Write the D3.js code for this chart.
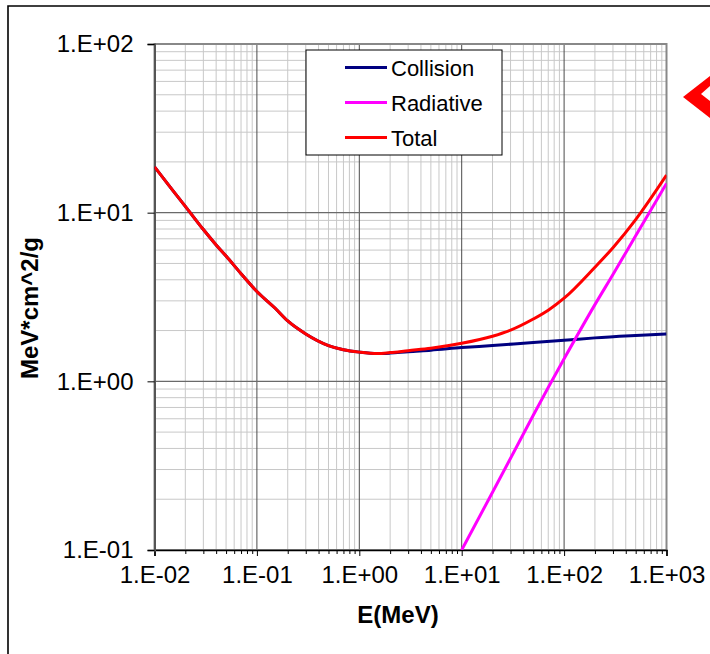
<!DOCTYPE html>
<html>
<head>
<meta charset="utf-8">
<script src="https://cdn.jsdelivr.net/npm/d3@7"></script>
<style>
  body { margin: 0; background: #fff; }
  svg { display: block; font-family: "Liberation Sans", Arial, sans-serif; }
</style>
</head>
<body>
<div id="chart"></div>
<script>
// energies (MeV) and stopping powers (MeV*cm^2/g)
const collisionE = [0.01, 0.015, 0.02, 0.03, 0.04, 0.05, 0.07, 0.1, 0.15, 0.2, 0.3, 0.5, 0.7, 1, 1.5, 2, 3, 5, 10, 20, 50, 100, 200, 500, 1000];
const collisionS = [18.7, 13.6, 10.9, 7.94, 6.44, 5.53, 4.35, 3.41, 2.72, 2.28, 1.91, 1.63, 1.54, 1.49, 1.46, 1.47, 1.50, 1.53, 1.585, 1.63, 1.70, 1.75, 1.81, 1.87, 1.91];

const radiativeE = [10, 20, 30, 50, 100, 200, 300, 500, 1000];
const radiativeS = [0.1, 0.22, 0.35, 0.63, 1.36, 2.85, 4.3, 7.3, 14.9];

const totalE = [0.01, 0.015, 0.02, 0.03, 0.04, 0.05, 0.07, 0.1, 0.15, 0.2, 0.3, 0.5, 0.7, 1, 1.5, 2, 3, 5, 10, 20, 30, 50, 70, 100, 200, 300, 500, 1000];
const totalS = [18.7, 13.6, 10.9, 7.94, 6.44, 5.53, 4.35, 3.41, 2.72, 2.28, 1.91, 1.63, 1.54, 1.49, 1.46, 1.48, 1.52, 1.57, 1.68, 1.85, 2.01, 2.34, 2.64, 3.11, 4.75, 6.2, 9.1, 16.7];

const xTicks = [1e-2, 1e-1, 1e0, 1e1, 1e2, 1e3];
const yTicks = [1e-1, 1e0, 1e1, 1e2];
const seriesNames = ["Collision", "Radiative", "Total"];
const seriesColors = ["#000080", "#ff00ff", "#ff0000"];

const width = 710, height = 654;
const margins = {left: 154.5, right: 43.5, top: 44, bottom: 104};
const w = width - margins.left - margins.right;
const h = height - margins.top - margins.bottom;

const svg = d3.select("#chart").append("svg")
    .attr("width", width)
    .attr("height", height);

// outer frame (only left and top edges are inside the picture)
svg.append("path")
    .attr("d", "M8,654 V6 H710")
    .attr("fill", "none")
    .attr("stroke", "#000")
    .attr("stroke-width", 1.6);

// red arrow at the right edge
svg.append("path")
    .attr("d", "M683,97 L710,76 L710,118 Z")
    .attr("fill", "#ff0000");
svg.append("path")
    .attr("d", "M710,86 L701,94 L710,101 Z")
    .attr("fill", "#fff");

const g = svg.append("g")
    .attr("transform", "translate(" + margins.left + "," + margins.top + ")");

const x = d3.scaleLog().domain([1e-2, 1e3]).range([0, w]);
const y = d3.scaleLog().domain([1e-1, 1e2]).range([h, 0]);

// minor values 2..9 in every decade
function minors(lo, hi) {
    const out = [];
    for (let p = lo; p < hi; p++) {
        for (let k = 2; k <= 9; k++) out.push(k * Math.pow(10, p));
    }
    return out;
}
const xMinor = minors(-2, 3);
const yMinor = minors(-1, 2);

function fmt(v) {
    const e = Math.round(Math.log10(v));
    return "1.E" + (e < 0 ? "-" : "+") + String(Math.abs(e)).padStart(2, "0");
}

// gridlines
g.append("g").selectAll("line.xminor")
    .data(xMinor).enter().append("line")
    .attr("x1", d => x(d)).attr("x2", d => x(d))
    .attr("y1", 0).attr("y2", h)
    .attr("stroke", "#c8c8c8").attr("stroke-width", 1);
g.append("g").selectAll("line.yminor")
    .data(yMinor).enter().append("line")
    .attr("y1", d => y(d)).attr("y2", d => y(d))
    .attr("x1", 0).attr("x2", w)
    .attr("stroke", "#c8c8c8").attr("stroke-width", 1);
g.append("g").selectAll("line.xmajor")
    .data(xTicks).enter().append("line")
    .attr("x1", d => x(d)).attr("x2", d => x(d))
    .attr("y1", 0).attr("y2", h)
    .attr("stroke", "#4a4a4a").attr("stroke-width", 1);
g.append("g").selectAll("line.ymajor")
    .data(yTicks).enter().append("line")
    .attr("y1", d => y(d)).attr("y2", d => y(d))
    .attr("x1", 0).attr("x2", w)
    .attr("stroke", "#6a6a6a").attr("stroke-width", 1.2);

// plot border
g.append("rect")
    .attr("width", w).attr("height", h)
    .attr("fill", "none")
    .attr("stroke", "#888").attr("stroke-width", 2);

// axes
const xAxis = g.append("g")
    .attr("transform", "translate(0," + h + ")")
    .call(d3.axisBottom(x).tickValues(xTicks).tickFormat(fmt).tickSize(6).tickPadding(10));
g.append("g")
    .attr("transform", "translate(0," + h + ")")
    .call(d3.axisBottom(x).tickValues(xMinor).tickFormat("").tickSize(4))
    .call(a => a.select(".domain").remove());
const yAxis = g.append("g")
    .call(d3.axisLeft(y).tickValues(yTicks).tickFormat(fmt).tickSize(7).tickPadding(14));

[xAxis, yAxis].forEach(a => {
    a.selectAll("text").attr("font-size", 24).attr("fill", "#000")
        .style("font-family", "'Liberation Sans', Arial, sans-serif");
    a.select(".domain").attr("stroke", "#000").attr("stroke-width", 1.6);
});
yAxis.select(".domain").attr("stroke", "#555").attr("stroke-width", 2);
g.selectAll(".tick line").attr("stroke", "#000");

// curves
g.append("clipPath").attr("id", "clip")
    .append("rect").attr("width", w).attr("height", h);

const line = d3.line()
    .x(d => x(d[0]))
    .y(d => y(d[1]))
    .curve(d3.curveMonotoneX);

const series = [
    d3.zip(collisionE, collisionS),
    d3.zip(radiativeE, radiativeS),
    d3.zip(totalE, totalS)
];

g.append("g").attr("clip-path", "url(#clip)")
    .selectAll("path")
    .data(series).enter().append("path")
    .attr("d", line)
    .attr("fill", "none")
    .attr("stroke", (d, i) => seriesColors[i])
    .attr("stroke-width", 3)
    .attr("stroke-linejoin", "round");

// legend
const legend = svg.append("g").attr("transform", "translate(306,50)");
legend.append("rect")
    .attr("width", 196).attr("height", 105)
    .attr("fill", "#fff").attr("stroke", "#000").attr("stroke-width", 1);
const rows = legend.selectAll("g.row")
    .data(seriesNames).enter().append("g")
    .attr("transform", (d, i) => "translate(0," + (17.5 + i * 35) + ")");
rows.append("line")
    .attr("x1", 39).attr("x2", 81)
    .attr("stroke", (d, i) => seriesColors[i])
    .attr("stroke-width", 3);
rows.append("text")
    .attr("x", 85).attr("y", 8)
    .attr("font-size", 22)
    .text(d => d);

// axis titles
svg.append("text")
    .attr("x", 398).attr("y", 623)
    .attr("text-anchor", "middle")
    .attr("font-size", 24).attr("font-weight", "bold")
    .text("E(MeV)");
svg.append("text")
    .attr("transform", "translate(37.5,308) rotate(-90)")
    .attr("text-anchor", "middle")
    .attr("font-size", 24).attr("font-weight", "bold")
    .text("MeV*cm^2/g");
</script>
</body>
</html>
